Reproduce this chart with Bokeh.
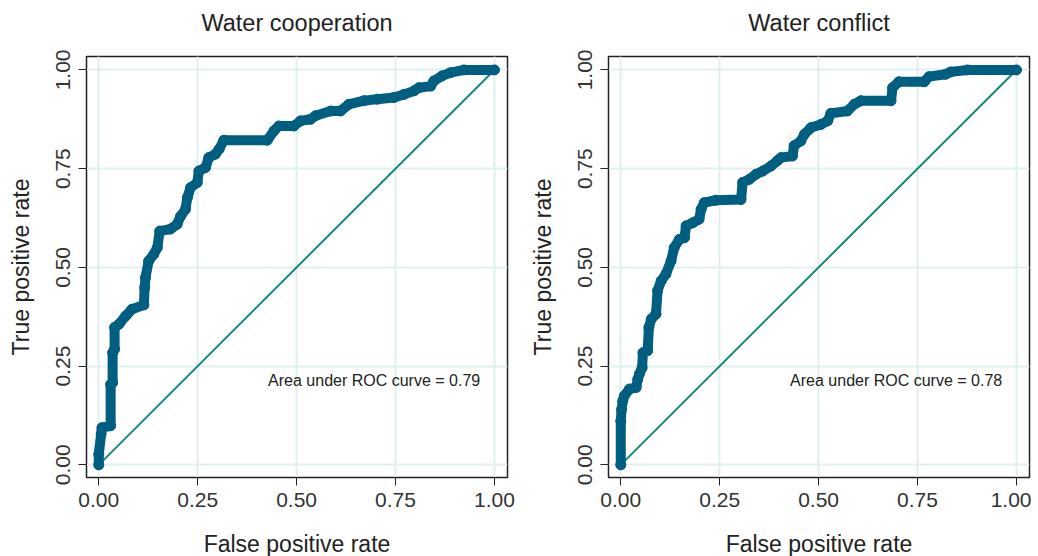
from bokeh.plotting import figure
from bokeh.layouts import row
from bokeh.models import FixedTicker, NumeralTickFormatter, Label, Title
from bokeh.embed import file_html
from bokeh.resources import INLINE

# ---- data ----
coop_fpr = [0.0, 0.0, 0.006, 0.008, 0.030, 0.030, 0.035, 0.035, 0.040, 0.040, 0.051, 0.068,
            0.084, 0.114, 0.116, 0.118, 0.126, 0.139, 0.148, 0.154, 0.181, 0.198, 0.207,
            0.219, 0.224, 0.232, 0.249, 0.253, 0.270, 0.278, 0.295, 0.304, 0.316, 0.426,
            0.443, 0.455, 0.493, 0.510, 0.535, 0.548, 0.586, 0.611, 0.632, 0.670, 0.704,
            0.746, 0.771, 0.797, 0.809, 0.839, 0.847, 0.868, 0.889, 0.923, 1.0]
coop_tpr = [0.0, 0.027, 0.078, 0.094, 0.099, 0.204, 0.208, 0.284, 0.293, 0.348, 0.356, 0.377,
            0.394, 0.405, 0.449, 0.474, 0.516, 0.533, 0.550, 0.592, 0.597, 0.609, 0.630,
            0.647, 0.677, 0.702, 0.715, 0.744, 0.753, 0.778, 0.787, 0.799, 0.822, 0.822,
            0.846, 0.858, 0.858, 0.871, 0.875, 0.884, 0.896, 0.896, 0.913, 0.922, 0.926,
            0.930, 0.938, 0.947, 0.955, 0.959, 0.972, 0.985, 0.993, 1.0, 1.0]

conf_fpr = [0.0, 0.0, 0.002, 0.005, 0.009, 0.022, 0.039, 0.043, 0.047, 0.054, 0.056, 0.068,
            0.071, 0.077, 0.089, 0.093, 0.102, 0.114, 0.127, 0.135, 0.148, 0.161, 0.165,
            0.182, 0.198, 0.203, 0.211, 0.240, 0.304, 0.308, 0.325, 0.342, 0.359, 0.380,
            0.396, 0.405, 0.434, 0.438, 0.455, 0.464, 0.481, 0.506, 0.523, 0.531, 0.573,
            0.590, 0.607, 0.683, 0.687, 0.703, 0.767, 0.779, 0.821, 0.834, 0.876, 1.0]
conf_tpr = [0.0, 0.111, 0.140, 0.162, 0.175, 0.192, 0.196, 0.217, 0.230, 0.246, 0.284, 0.289,
            0.348, 0.369, 0.382, 0.441, 0.466, 0.483, 0.516, 0.550, 0.571, 0.575, 0.605,
            0.613, 0.622, 0.647, 0.664, 0.670, 0.672, 0.715, 0.723, 0.736, 0.744, 0.757,
            0.770, 0.778, 0.782, 0.808, 0.820, 0.837, 0.854, 0.862, 0.871, 0.890, 0.896,
            0.913, 0.922, 0.922, 0.955, 0.970, 0.970, 0.983, 0.989, 0.995, 1.0, 1.0]

titles = ["Water cooperation", "Water conflict"]
auc_labels = ["Area under ROC curve = 0.79", "Area under ROC curve = 0.78"]
ticks = [0.0, 0.25, 0.5, 0.75, 1.0]
ref_line = [0.0, 1.0]

CURVE = "#005e80"
DIAG = "#14897b"
GRID = "#e2efef"
FONT = "Liberation Sans"


def make_panel(fpr, tpr, title, auc, left_border, right_border):
    p = figure(frame_width=421, frame_height=421,
               x_range=(-0.031, 1.033), y_range=(-0.032, 1.034),
               output_backend="svg", toolbar_location=None,
               min_border_left=left_border, min_border_right=right_border,
               min_border_top=56, min_border_bottom=71)

    # spacer (closest to frame) then the real title above it
    p.add_layout(Title(text=" ", text_font_size="17px", standoff=0), "above")
    p.add_layout(Title(text=title, align="center", text_font=FONT,
                       text_font_size="23.5px", text_font_style="normal",
                       text_color="#222222", standoff=0), "above")

    p.background_fill_color = "white"
    p.border_fill_color = "white"
    p.outline_line_color = "#222222"
    p.outline_line_width = 1.5

    for ax in (p.xaxis[0], p.yaxis[0]):
        ax.ticker = FixedTicker(ticks=ticks)
        ax.formatter = NumeralTickFormatter(format="0.00")
        ax.major_tick_out = 8
        ax.major_tick_in = 0
        ax.minor_tick_out = 0
        ax.minor_tick_in = 0
        ax.axis_line_color = "#222222"
        ax.major_tick_line_color = "#222222"
        ax.major_label_text_font = FONT
        ax.major_label_text_font_size = "21px"
        ax.major_label_text_color = "#333333"
        ax.axis_label_text_font = FONT
        ax.axis_label_text_font_size = "23px"
        ax.axis_label_text_font_style = "normal"
        ax.axis_label_text_color = "#222222"

    p.xaxis.axis_label = "False positive rate"
    p.yaxis.axis_label = "True positive rate"
    p.xaxis.major_label_standoff = 7
    p.yaxis.major_label_standoff = 8
    p.yaxis.major_label_orientation = "vertical"
    p.xaxis.axis_label_standoff = 21
    p.yaxis.axis_label_standoff = 20

    p.xgrid.ticker = FixedTicker(ticks=ticks)
    p.ygrid.ticker = FixedTicker(ticks=ticks)
    p.xgrid.grid_line_color = GRID
    p.ygrid.grid_line_color = GRID
    p.xgrid.grid_line_width = 2
    p.ygrid.grid_line_width = 2

    p.line(ref_line, ref_line, line_color=DIAG, line_width=2)
    p.line(fpr, tpr, line_color=CURVE, line_width=10,
           line_join="round", line_cap="round")
    p.scatter(fpr, tpr, marker="circle", size=10, fill_color=CURVE, line_color=CURVE)

    p.add_layout(Label(x=0.428, y=0.214, text=auc, text_font=FONT,
                       text_font_size="16px", text_color="#222222",
                       text_baseline="middle", text_align="left"))
    return p


p1 = make_panel(coop_fpr, coop_tpr, titles[0], auc_labels[0], 86, 15)
p2 = make_panel(conf_fpr, conf_tpr, titles[1], auc_labels[1], 86, 2)

layout = row(p1, p2)
open("out.html", "w").write(file_html(layout, INLINE))
